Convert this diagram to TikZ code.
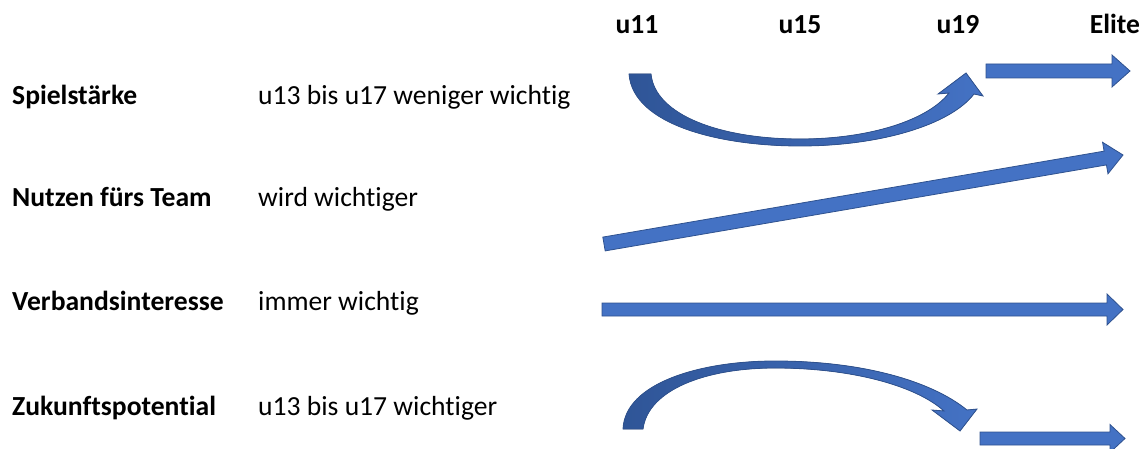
\documentclass[tikz,border=0pt]{standalone}
\usepackage{fontspec}
\setmainfont{Carlito}[Ligatures={NoCommon}]
\usetikzlibrary{calc}
\definecolor{bmain}{HTML}{4472C4}
\definecolor{bdark}{HTML}{2F5597}
\definecolor{bline}{HTML}{2F528F}
\tikzset{
  blk/.style={fill=bmain,draw=bline,line width=0.8pt,line join=miter},
  cblk/.style={left color=bdark,right color=bmain,draw=bline,line width=0.8pt},
  lab/.style={anchor=base west,inner sep=0pt,font=\fontsize{27.6}{32}\selectfont\bfseries},
  desc/.style={anchor=base west,inner sep=0pt,font=\fontsize{27.6}{32}\selectfont},
  hdr/.style={anchor=base,inner sep=0pt,font=\fontsize{27.6}{32}\selectfont\bfseries}
}
\newcommand\barrowpath[5]{%
  \coordinate (hb) at ($(#2)!#5!(#1)$);
  \filldraw[blk] ($(#1)!#3!90:(#2)$) -- ($(hb)!#3!-90:(#1)$) -- ($(hb)!#4!-90:(#1)$) -- (#2)
     -- ($(hb)!#4!90:(#1)$) -- ($(hb)!#3!90:(#1)$) -- ($(#1)!#3!-90:(#2)$) -- cycle;}
\begin{document}
\begin{tikzpicture}[x=1pt,y=-1pt]
\useasboundingbox (0,0) rectangle (1148,449);
% headers
\node[hdr] (h11) at (637,34) {u11};
\node[hdr] (h15) at (800,34) {u15};
\node[hdr] (h19) at (958,34) {u19};
\node[hdr] (hel) at (1115,34) {Elite};
% labels
\node[lab] (l1) at (12,105) {Spielstärke};
\node[lab] (l2) at (12,207) {Nutzen fürs Team};
\node[lab] (l3) at (12,310) {Verbandsinteresse};
\node[lab] (l4) at (12,415) {Zukunftspotential};
\node[desc] (d1) at (258,105) {u13 bis u17 weniger wichtig};
\node[desc] (d2) at (258,207) {wird wichtiger};
\node[desc] (d3) at (258,310) {immer wichtig};
\node[desc] (d4) at (258,415) {u13 bis u17 wichtiger};
% curved arrow top
\filldraw[cblk] (629,74) .. controls (633,125) and (720,146) .. (800,146)
   .. controls (880,146) and (950,125) .. (974,94) -- (983,96) -- (966,73) -- (938,94) -- (949,93)
   .. controls (928,120) and (870,139) .. (800,139)
   .. controls (720,139) and (655,115) .. (651,74) -- cycle;
% curved arrow bottom
\filldraw[cblk] (623,429) .. controls (625,383) and (700,361) .. (775,361)
   .. controls (860,361) and (930,380) .. (967,410) -- (977,409) -- (960,431) -- (932,410) -- (944,411)
   .. controls (915,385) and (850,368) .. (775,368)
   .. controls (705,368) and (648,390) .. (643,429) -- cycle;
% straight arrows
\coordinate (a1s) at (986,71); \coordinate (a1e) at (1130,71);
\barrowpath{a1s}{a1e}{7pt}{16pt}{18pt}
\coordinate (a2s) at (604,244); \coordinate (a2e) at (1123,155);
\barrowpath{a2s}{a2e}{7pt}{16pt}{18pt}
\coordinate (a3s) at (602,309.5); \coordinate (a3e) at (1123,309.5);
\barrowpath{a3s}{a3e}{6.5pt}{15.5pt}{16pt}
\coordinate (a4s) at (980,438.5); \coordinate (a4e) at (1125,438.5);
\barrowpath{a4s}{a4e}{6.5pt}{14pt}{15pt}
\end{tikzpicture}
\end{document}
